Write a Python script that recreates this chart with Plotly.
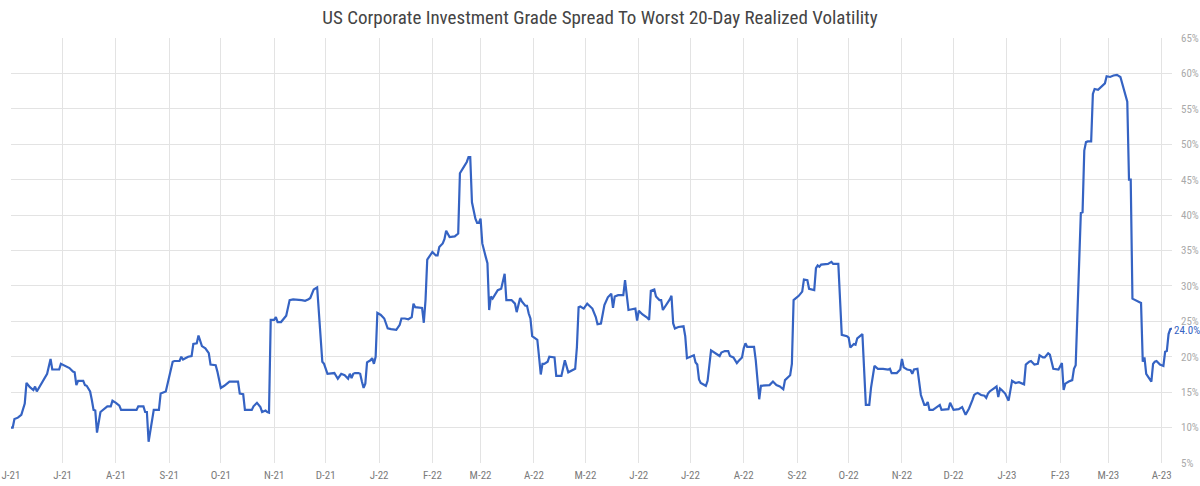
import plotly.graph_objects as go

TITLE = "US Corporate Investment Grade Spread To Worst 20-Day Realized Volatility"

dates = [
    "2021-06-01","2021-06-02","2021-06-03","2021-06-05","2021-06-07","2021-06-09","2021-06-10","2021-06-12",
    "2021-06-14","2021-06-15","2021-06-16","2021-06-18","2021-06-20","2021-06-22","2021-06-24","2021-06-25",
    "2021-06-27","2021-06-29","2021-06-30","2021-07-03","2021-07-05","2021-07-07","2021-07-08","2021-07-09",
    "2021-07-10","2021-07-13","2021-07-14","2021-07-15","2021-07-17","2021-07-18","2021-07-19","2021-07-20",
    "2021-07-21","2021-07-23","2021-07-24","2021-07-27","2021-07-29","2021-07-30","2021-08-01","2021-08-03",
    "2021-08-04","2021-08-08","2021-08-13","2021-08-14","2021-08-17","2021-08-18","2021-08-19","2021-08-20",
    "2021-08-21","2021-08-23","2021-08-26","2021-08-27","2021-08-30","2021-08-31","2021-09-03","2021-09-04",
    "2021-09-07","2021-09-08","2021-09-09","2021-09-12","2021-09-14","2021-09-15","2021-09-17","2021-09-18",
    "2021-09-20","2021-09-22","2021-09-24","2021-09-25","2021-09-28","2021-09-29","2021-09-30","2021-10-01",
    "2021-10-03","2021-10-06","2021-10-11","2021-10-12","2021-10-14","2021-10-15","2021-10-19","2021-10-20",
    "2021-10-22","2021-10-24","2021-10-25","2021-10-27","2021-10-28","2021-10-29","2021-10-30","2021-11-01",
    "2021-11-02","2021-11-03","2021-11-05","2021-11-08","2021-11-10","2021-11-12","2021-11-17","2021-11-19",
    "2021-11-21","2021-11-22","2021-11-24","2021-11-26","2021-11-29","2021-11-30","2021-12-02","2021-12-03",
    "2021-12-06","2021-12-08","2021-12-09","2021-12-10","2021-12-12","2021-12-14","2021-12-15","2021-12-16",
    "2021-12-17","2021-12-18","2021-12-20","2021-12-21","2021-12-22","2021-12-23","2021-12-24","2021-12-25",
    "2021-12-27","2021-12-28","2021-12-29","2021-12-30","2021-12-31",
    "2022-01-02","2022-01-04","2022-01-06","2022-01-08","2022-01-11","2022-01-13","2022-01-14","2022-01-16",
    "2022-01-18","2022-01-20","2022-01-21","2022-01-22","2022-01-26","2022-01-27","2022-01-28","2022-01-29",
    "2022-02-01","2022-02-03","2022-02-04","2022-02-05","2022-02-07","2022-02-08","2022-02-09","2022-02-11",
    "2022-02-13","2022-02-14","2022-02-16","2022-02-17","2022-02-19","2022-02-21","2022-02-22","2022-02-23",
    "2022-02-24","2022-02-26","2022-02-27","2022-02-28","2022-03-01","2022-03-02","2022-03-04","2022-03-05",
    "2022-03-06","2022-03-07","2022-03-08","2022-03-11","2022-03-13","2022-03-14","2022-03-15","2022-03-16",
    "2022-03-19","2022-03-21","2022-03-22","2022-03-24","2022-03-25","2022-03-27","2022-03-28","2022-03-29",
    "2022-03-30","2022-03-31","2022-04-02","2022-04-03","2022-04-04","2022-04-05","2022-04-06","2022-04-07",
    "2022-04-09","2022-04-10","2022-04-13","2022-04-14","2022-04-17","2022-04-18","2022-04-19","2022-04-21",
    "2022-04-23","2022-04-25","2022-04-26","2022-04-27","2022-04-28","2022-04-30","2022-05-02","2022-05-05",
    "2022-05-07","2022-05-08","2022-05-10","2022-05-12","2022-05-14","2022-05-16","2022-05-17","2022-05-18",
    "2022-05-20","2022-05-23","2022-05-24","2022-05-25","2022-05-26","2022-05-28","2022-05-30","2022-05-31",
    "2022-06-01","2022-06-03","2022-06-06","2022-06-07","2022-06-08","2022-06-10","2022-06-11","2022-06-13",
    "2022-06-14","2022-06-15","2022-06-17","2022-06-19","2022-06-20","2022-06-21","2022-06-22","2022-06-24",
    "2022-06-27","2022-06-28","2022-06-29","2022-06-30","2022-07-03","2022-07-04","2022-07-05","2022-07-06",
    "2022-07-07","2022-07-10","2022-07-11","2022-07-13","2022-07-15","2022-07-18","2022-07-19","2022-07-21",
    "2022-07-23","2022-07-24","2022-07-26","2022-07-28","2022-07-29","2022-07-31","2022-08-01","2022-08-02",
    "2022-08-03","2022-08-07","2022-08-08","2022-08-09","2022-08-10","2022-08-11","2022-08-15","2022-08-16",
    "2022-08-18","2022-08-20","2022-08-22","2022-08-24","2022-08-25","2022-08-27","2022-08-28","2022-08-29",
    "2022-08-30","2022-08-31","2022-09-02","2022-09-04","2022-09-05","2022-09-07","2022-09-08","2022-09-11",
    "2022-09-12","2022-09-13","2022-09-14","2022-09-15","2022-09-19","2022-09-21","2022-09-22","2022-09-25",
    "2022-09-27","2022-09-30","2022-10-01","2022-10-02","2022-10-04","2022-10-05","2022-10-06","2022-10-09",
    "2022-10-10","2022-10-11","2022-10-13","2022-10-14","2022-10-16","2022-10-18","2022-10-21","2022-10-24",
    "2022-10-25","2022-10-26","2022-10-29","2022-10-31","2022-11-01","2022-11-02","2022-11-04","2022-11-06",
    "2022-11-07","2022-11-08","2022-11-10","2022-11-11","2022-11-12","2022-11-14","2022-11-15","2022-11-16",
    "2022-11-17","2022-11-19","2022-11-21","2022-11-23","2022-11-24","2022-11-26","2022-11-28","2022-11-29",
    "2022-11-30","2022-12-01","2022-12-04","2022-12-05","2022-12-06","2022-12-08","2022-12-10","2022-12-12",
    "2022-12-13","2022-12-14","2022-12-15","2022-12-17","2022-12-19","2022-12-20","2022-12-21","2022-12-22",
    "2022-12-24","2022-12-26","2022-12-27","2022-12-28","2022-12-29","2022-12-31",
    "2023-01-02","2023-01-04","2023-01-06","2023-01-08","2023-01-11","2023-01-12","2023-01-14","2023-01-15",
    "2023-01-17","2023-01-19","2023-01-20","2023-01-22","2023-01-23","2023-01-25","2023-01-26","2023-01-28",
    "2023-01-31","2023-02-02","2023-02-03","2023-02-04","2023-02-06","2023-02-08","2023-02-09","2023-02-10",
    "2023-02-13","2023-02-14","2023-02-15","2023-02-16","2023-02-17","2023-02-19","2023-02-20","2023-02-21",
    "2023-02-23","2023-02-25","2023-02-27","2023-02-28","2023-03-02","2023-03-04","2023-03-06","2023-03-08",
    "2023-03-09","2023-03-10","2023-03-12","2023-03-13","2023-03-14","2023-03-15","2023-03-17","2023-03-20",
    "2023-03-21","2023-03-22","2023-03-23","2023-03-24","2023-03-26","2023-03-27","2023-03-28","2023-03-29",
    "2023-03-31","2023-04-02","2023-04-03","2023-04-04","2023-04-05","2023-04-06","2023-04-07",
]

volatility = [
    10.0,10.0,11.2,11.4,11.8,13.4,16.3,15.7,
    15.3,15.8,15.1,16.0,16.9,17.6,19.7,18.2,
    18.2,18.2,19.0,18.7,18.4,17.9,17.8,16.0,
    16.6,16.6,16.0,15.9,15.1,13.9,12.5,12.4,
    9.3,12.2,12.4,13.0,13.0,13.8,13.5,13.1,
    12.5,12.5,12.5,13.0,13.0,12.2,12.2,8.0,
    9.6,12.5,12.5,14.8,15.1,16.2,19.3,19.4,
    19.4,20.0,19.6,20.0,20.1,21.8,21.9,23.0,
    21.5,21.2,20.5,18.9,18.8,17.9,16.7,15.6,
    15.9,16.5,16.5,14.8,14.7,12.5,12.5,13.0,
    13.5,12.9,12.2,12.4,12.2,12.1,25.2,25.2,
    25.6,24.9,24.9,25.8,28.0,28.1,28.0,27.9,
    28.1,28.3,29.5,29.8,19.3,19.0,17.6,17.6,
    17.7,16.9,17.2,17.6,17.4,16.9,17.6,17.0,
    17.6,17.7,17.7,17.6,16.5,15.6,16.2,19.2,
    19.5,19.8,19.0,20.0,26.2,
    25.9,25.4,24.0,23.9,23.8,24.5,25.4,25.4,
    25.3,25.6,27.5,27.0,26.9,24.8,28.0,33.7,
    34.8,34.3,34.3,35.5,36.0,36.6,37.8,36.9,
    36.9,37.0,37.4,45.9,46.7,47.5,48.2,48.2,
    41.8,39.5,38.9,38.9,39.5,36.0,34.1,33.2,
    26.6,28.5,28.2,29.4,29.6,30.5,31.7,28.0,
    28.0,27.5,26.3,28.3,27.8,27.2,27.2,26.1,
    25.4,22.9,22.6,22.4,20.0,17.5,19.0,19.0,
    19.3,20.0,19.9,17.3,17.3,18.4,19.5,17.8,
    18.1,18.3,21.3,27.0,27.1,26.8,27.5,26.8,
    25.6,24.6,24.7,27.3,28.4,28.9,26.9,28.5,
    28.7,28.7,30.8,28.7,26.6,26.7,26.8,25.1,
    26.5,26.0,25.5,25.2,29.3,29.5,28.5,28.0,
    28.0,26.6,27.3,28.1,28.6,24.7,24.0,24.2,
    24.3,22.9,19.8,19.9,20.2,19.2,18.9,16.8,
    16.3,15.9,16.6,20.9,20.6,20.1,20.6,20.8,
    20.8,20.1,19.9,19.1,19.4,19.9,21.2,21.9,
    21.4,21.4,19.5,16.8,14.0,15.9,15.9,16.0,
    16.5,16.0,15.8,15.4,16.7,17.2,17.4,19.0,
    28.0,28.2,28.6,29.2,30.9,30.8,29.6,29.4,
    32.5,32.9,32.7,33.0,33.1,33.4,33.1,33.1,
    23.1,22.9,22.7,21.3,21.8,21.7,22.6,23.2,
    18.7,13.2,13.2,15.6,18.7,18.3,18.3,18.2,
    18.3,17.7,17.7,18.2,19.7,18.5,18.2,18.1,
    17.6,18.2,18.3,16.7,14.6,13.2,13.2,13.6,
    12.5,12.5,12.9,13.2,12.5,12.5,12.6,13.5,
    12.9,12.5,12.6,12.7,12.9,11.8,12.7,13.9,
    14.6,14.8,14.9,14.6,14.5,14.2,14.8,15.1,
    15.4,15.8,14.3,15.5,15.3,14.8,
    13.8,16.6,16.3,16.4,16.1,18.9,19.3,19.4,
    18.9,19.0,20.2,19.9,19.9,20.5,20.3,18.3,
    18.2,19.1,15.3,16.2,16.5,16.7,18.3,18.8,
    40.3,40.4,49.1,50.3,50.4,50.4,57.1,57.8,
    57.7,58.2,58.6,59.6,59.5,59.7,59.8,59.5,
    58.6,57.4,56.0,45.0,45.0,28.2,28.0,27.6,
    19.3,19.9,17.6,17.2,16.5,19.0,19.3,19.4,
    18.9,18.7,20.7,20.8,23.2,23.9,24.0,
]

tick_dates = [
    "2021-06-01","2021-07-01","2021-08-01","2021-09-01","2021-10-01","2021-11-01","2021-12-01",
    "2022-01-01","2022-02-01","2022-03-01","2022-04-01","2022-05-01","2022-06-01","2022-07-01",
    "2022-08-01","2022-09-01","2022-10-01","2022-11-01","2022-12-01","2023-01-01","2023-02-01",
    "2023-03-01","2023-04-01",
]
tick_labels = [
    "J-21","J-21","A-21","S-21","O-21","N-21","D-21","J-22","F-22","M-22","A-22","M-22",
    "J-22","J-22","A-22","S-22","O-22","N-22","D-22","J-23","F-23","M-23","A-23",
]
y_ticks = [5, 10, 15, 20, 25, 30, 35, 40, 45, 50, 55, 60, 65]

LINE = "#3563c3"
FONT = "Liberation Sans Narrow, Roboto Condensed, Roboto, sans-serif"

fig = go.Figure()
fig.add_trace(go.Scatter(
    x=dates, y=volatility, mode="lines",
    line=dict(color=LINE, width=2.2), hoverinfo="x+y", showlegend=False,
))

fig.add_annotation(
    x=dates[-1], y=volatility[-1], text=f"{volatility[-1]:.1f}%",
    showarrow=False, xanchor="left", yanchor="middle", xshift=0, yshift=-2,
    font=dict(family=FONT, size=11, color=LINE),
)

fig.update_layout(
    width=1200, height=486,
    margin=dict(l=11, r=28, t=38, b=23, autoexpand=False),
    paper_bgcolor="white", plot_bgcolor="white",
    title=dict(text=TITLE, x=0.5, xanchor="center", y=1 - 17 / 486, yanchor="middle",
               yref="container", font=dict(family=FONT, size=19, color="#444444")),
    font=dict(family=FONT),
)
fig.update_xaxes(
    type="date", range=["2021-06-01", "2023-04-07"], automargin=False,
    tickmode="array", tickvals=tick_dates, ticktext=tick_labels,
    showgrid=True, gridcolor="#e3e3e3", gridwidth=1,
    zeroline=False, showline=False, ticks="",
    tickfont=dict(family=FONT, size=11, color="#7a7a7a"),
    ticklabelstandoff=4,
)
fig.update_yaxes(
    range=[5, 65], side="right", automargin=False,
    tickmode="array", tickvals=y_ticks,
    ticktext=[f"{v}%" for v in y_ticks],
    showgrid=True, gridcolor="#e3e3e3", gridwidth=1,
    zeroline=False, showline=False, ticks="",
    tickfont=dict(family=FONT, size=11, color="#aaaaaa"),
    ticklabelstandoff=8,
)

fig.write_html("out.html")
